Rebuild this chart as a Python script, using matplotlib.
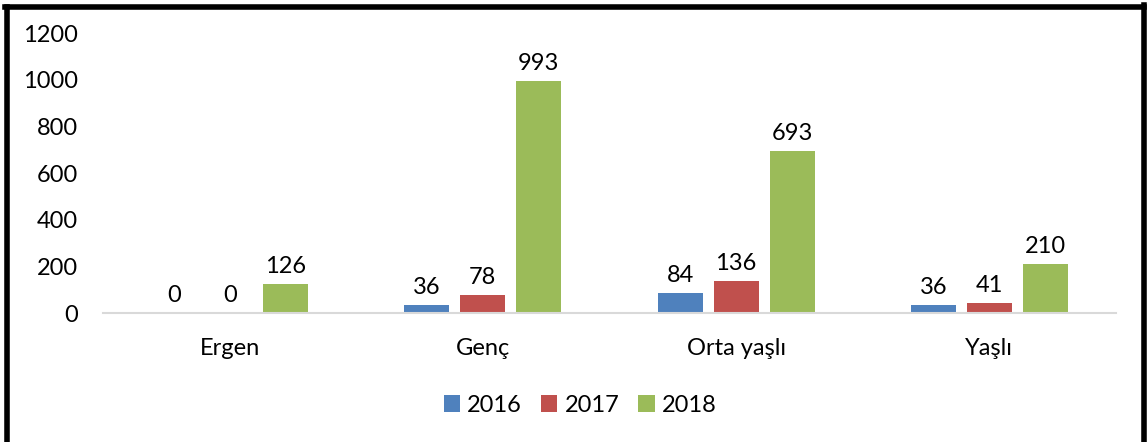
import matplotlib.pyplot as plt
import numpy as np

plt.rcParams['font.family'] = ['Lato', 'DejaVu Sans']

kategoriler = ['Ergen', 'Genç', 'Orta yaşlı', 'Yaşlı']
yillar = ['2016', '2017', '2018']
v2016 = [0, 36, 84, 36]
v2017 = [0, 78, 136, 41]
v2018 = [126, 993, 693, 210]
renkler = ['#4F81BD', '#C0504D', '#9BBB59']

fig = plt.figure(figsize=(11.48, 4.42), dpi=100)
ax = fig.add_axes([103/1148, 1 - 313/442, 1013/1148, 280/442])

x = np.arange(len(kategoriler))
w = 0.178
step = 0.221
fs = 17
for i, (vals, yil) in enumerate(zip([v2016, v2017, v2018], yillar)):
    pos = x + (i - 1) * step
    ax.bar(pos, vals, width=w, color=renkler[i], label=yil)
    for p, v in zip(pos, vals):
        ax.text(p, v + 30, str(v), ha='center', va='bottom', fontsize=fs, color='#000000')

ax.set_xlim(-0.5, 3.5)
ax.set_ylim(0, 1200)
ax.set_yticks(range(0, 1201, 200))
ax.set_xticks(x)
ax.set_xticklabels(kategoriler)
ax.tick_params(axis='both', length=0, labelsize=fs)
ax.tick_params(axis='x', pad=18)
ax.tick_params(axis='y', pad=18)
for s in ['top', 'right', 'left']:
    ax.spines[s].set_visible(False)
ax.spines['bottom'].set_color('#D9D9D9')
ax.spines['bottom'].set_linewidth(1.5)

fig.legend(loc='center', bbox_to_anchor=(580/1148, 1 - 405/442), ncol=3, frameon=False,
           fontsize=fs, handlelength=0.7, handleheight=0.7, handletextpad=0.3,
           columnspacing=0.8)

# cerceve
fig.add_artist(plt.Line2D([7/1148, 7/1148], [0, 1 - 7/442], color='black', lw=4, transform=fig.transFigure))
fig.add_artist(plt.Line2D([5/1148, 1144/1148], [1 - 7/442, 1 - 7/442], color='black', lw=4, transform=fig.transFigure))
fig.add_artist(plt.Line2D([1144/1148, 1144/1148], [0, 1 - 5/442], color='black', lw=4, transform=fig.transFigure))
fig.text(135/1148, 1 + 6/442, 'Ç', ha='center', va='baseline', fontsize=fs)

fig.savefig('out.png', dpi=100)
